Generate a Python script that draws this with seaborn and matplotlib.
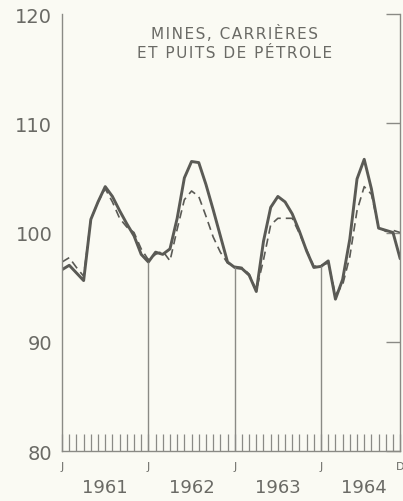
import numpy as np
import pandas as pd
import seaborn as sns
import matplotlib.pyplot as plt

# monthly index, Jan 1961 .. Dec 1964
years = ['1961', '1962', '1963', '1964']
month_letters = ['J', 'J', 'J', 'J', 'D']

# raw series (solid)
brute = [96.6, 97.0, 96.3, 95.6, 101.2, 102.8, 104.2, 103.3, 102.0, 100.8, 99.7, 98.0,
         97.3, 98.2, 98.0, 98.5, 101.3, 105.0, 106.5, 106.4, 104.4, 102.1, 99.7, 97.3,
         96.8, 96.7, 96.1, 94.6, 99.2, 102.3, 103.3, 102.8, 101.7, 100.1, 98.3, 96.8,
         96.9, 97.4, 93.9, 95.7, 99.4, 104.9, 106.7, 104.0, 100.4, 100.2, 100.0, 97.6]

# second series (dashed)
corrige = [97.3, 97.7, 96.8, 96.0, 101.2, 102.8, 104.0, 102.8, 101.3, 100.5, 100.0, 98.5,
           97.5, 98.0, 98.3, 97.4, 100.3, 103.0, 103.8, 103.3, 101.5, 99.6, 98.2, 97.2,
           96.9, 96.8, 96.2, 94.7, 97.5, 100.7, 101.3, 101.3, 101.3, 99.9, 98.4, 96.9,
           97.0, 97.2, 94.3, 95.2, 97.8, 102.0, 104.2, 103.5, 100.5, 100.1, 100.2, 100.0]

df = pd.DataFrame({'mois': np.arange(len(brute)), 'brute': brute, 'corrige': corrige})

bg = '#fafaf3'
ink = '#5a5a55'
axc = '#8a8a85'
txt = '#6a6a65'

sns.set_style('white')
plt.rcParams['font.family'] = ['DejaVu Sans']

fig = plt.figure(figsize=(4.03, 5.02), dpi=100, facecolor=bg)
ax = fig.add_axes([0.154, 0.0996, 0.839, 0.8705])
ax.set_facecolor(bg)

sns.lineplot(data=df, x='mois', y='brute', ax=ax, color=ink, lw=2.1)
sns.lineplot(data=df, x='mois', y='corrige', ax=ax, color=ink, lw=1.2, linestyle=(0, (5, 3)))

# vertical separators at each January, up to the curve
for m in [12, 24, 36]:
    ax.vlines(m, 80, df.loc[m, 'brute'], color=axc, lw=1.0)

ax.set_xlim(0, 47)
ax.set_ylim(80, 120)
ax.set_xlabel('')
ax.set_ylabel('')

for s in ['left', 'right', 'bottom']:
    ax.spines[s].set_color(axc)
    ax.spines[s].set_linewidth(1.0)
ax.spines['top'].set_visible(False)

ax.set_yticks([80, 90, 100, 110, 120])
ax.set_yticklabels(['80', '90', '100', '110', '120'], color=txt, fontsize=14)
ax.tick_params(axis='y', direction='in', length=10, width=1.0, color=axc,
               right=True, pad=7)

ax.set_xticks(np.arange(0, 48))
ax.set_xticklabels([])
ax.tick_params(axis='x', direction='in', length=12, width=0.9, color=axc, bottom=True)

# month letters under the axis
for pos, lab in zip([0, 12, 24, 36, 47], month_letters):
    ax.text(pos, -0.035, lab, transform=ax.get_xaxis_transform(), ha='center', va='center',
            fontsize=8, color=txt, clip_on=False)
for i, y in enumerate(years):
    ax.text(12 * i + 6, -0.083, y, transform=ax.get_xaxis_transform(), ha='center', va='center',
            fontsize=13, color=txt, clip_on=False)

hs = '\u200a'
titre = [hs.join('MINES, CARRIÈRES'), hs.join('ET PUITS DE PÉTROLE')]
ax.text(24, 0.978, '\n'.join(titre), transform=ax.get_xaxis_transform(),
        ha='center', va='top', fontsize=11, color=txt, linespacing=1.4)

fig.savefig('out.png', dpi=100, facecolor=bg)
